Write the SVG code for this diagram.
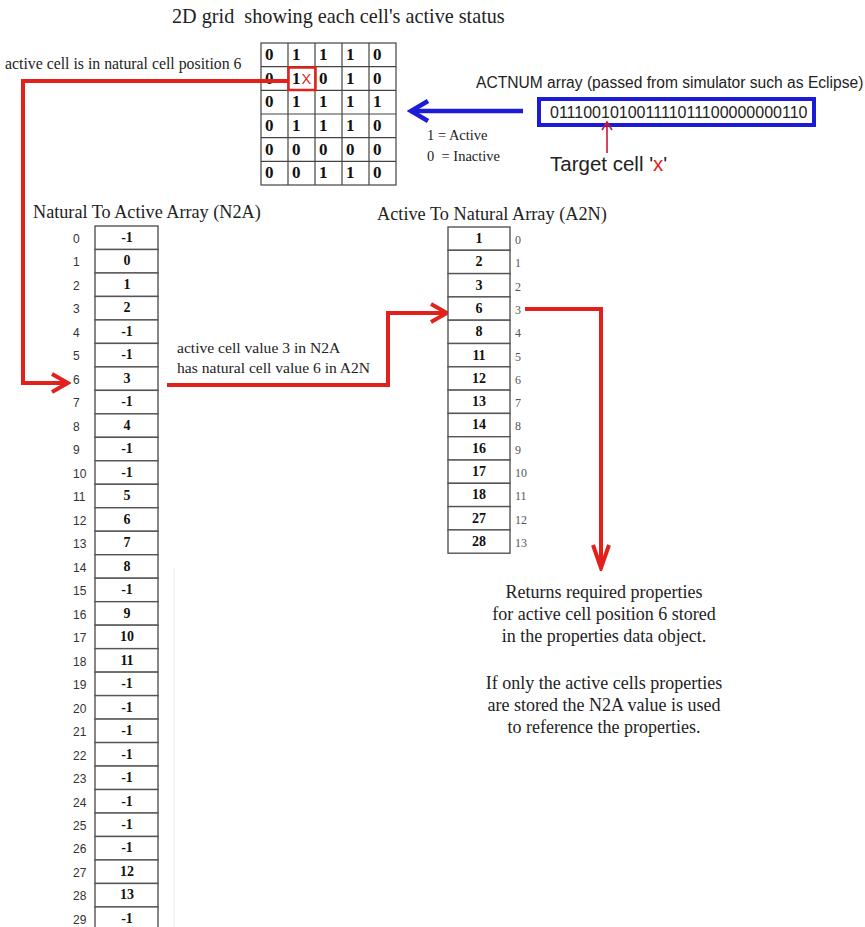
<svg xmlns="http://www.w3.org/2000/svg" width="865" height="927" viewBox="0 0 865 927">
  <style>
    .serif { font-family: "Liberation Serif", "Times New Roman", serif; fill: #222; }
    .pre { white-space: pre; }
    .sans { font-family: "Liberation Sans", Arial, sans-serif; fill: #222; }
    .grid-cell { fill: #fff; stroke: #444; stroke-width: 1.2; }
    .grid-val { font-family: "Liberation Serif", serif; font-weight: bold; font-size: 17px; fill: #111; }
    .arr-cell { fill: #fff; stroke: #555; stroke-width: 1.4; }
    .arr-val { font-family: "Liberation Serif", serif; font-weight: bold; font-size: 14px; fill: #111; text-anchor: middle; }
    .n2a-idx { font-family: "Liberation Sans", Arial, sans-serif; font-size: 12px; fill: #333; }
    .a2n-idx { font-family: "Liberation Serif", serif; font-size: 12px; fill: #555; }
    .red-link { fill: none; stroke: #e3201b; stroke-width: 4; stroke-linejoin: miter; }
    .blue-link { fill: none; stroke: #1c1cd6; stroke-width: 4.5; }
    .thin-link { fill: none; stroke: #c81838; stroke-width: 1.6; }
  </style>
  <defs>
    <marker id="chev-red" viewBox="0 0 22 22" refX="19" refY="11" markerWidth="22" markerHeight="22" markerUnits="userSpaceOnUse" orient="auto">
      <path d="M3,2 L19,11 L3,20" fill="none" stroke="#e3201b" stroke-width="4"/>
    </marker>
    <marker id="chev-red-long" viewBox="0 0 28 20" refX="25" refY="10" markerWidth="28" markerHeight="20" markerUnits="userSpaceOnUse" orient="auto">
      <path d="M2,2 L25,10 L2,18" fill="none" stroke="#e3201b" stroke-width="4"/>
    </marker>
    <marker id="chev-blue" viewBox="0 0 24 24" refX="20" refY="12" markerWidth="24" markerHeight="24" markerUnits="userSpaceOnUse" orient="auto">
      <path d="M3,2 L20,12 L3,22" fill="none" stroke="#1c1cd6" stroke-width="4.5"/>
    </marker>
    <marker id="chev-thin" viewBox="0 0 12 12" refX="10" refY="6" markerWidth="12" markerHeight="12" markerUnits="userSpaceOnUse" orient="auto">
      <path d="M2,1 L10,6 L2,11" fill="none" stroke="#c81838" stroke-width="1.6"/>
    </marker>
  </defs>

  <rect width="865" height="927" fill="#fff"/>

  <!-- faint guide line beside the lower N2A column -->
  <line x1="174" y1="568" x2="174" y2="927" stroke="#ececec" stroke-width="1"/>

  <!-- 2D grid of active flags -->
  <g id="grid">
    <text class="serif pre" x="172" y="23" font-size="20.2">2D grid  showing each cell's active status</text>
    <g id="grid-cells">
      <rect class="grid-cell" x="261" y="43" width="135" height="142"/>
      <line x1="288" y1="43" x2="288" y2="185" stroke="#444" stroke-width="1.2"/>
      <line x1="315" y1="43" x2="315" y2="185" stroke="#444" stroke-width="1.2"/>
      <line x1="342" y1="43" x2="342" y2="185" stroke="#444" stroke-width="1.2"/>
      <line x1="369" y1="43" x2="369" y2="185" stroke="#444" stroke-width="1.2"/>
      <line x1="261" y1="66.7" x2="396" y2="66.7" stroke="#444" stroke-width="1.2"/>
      <line x1="261" y1="90.3" x2="396" y2="90.3" stroke="#444" stroke-width="1.2"/>
      <line x1="261" y1="114" x2="396" y2="114" stroke="#444" stroke-width="1.2"/>
      <line x1="261" y1="137.7" x2="396" y2="137.7" stroke="#444" stroke-width="1.2"/>
      <line x1="261" y1="161.3" x2="396" y2="161.3" stroke="#444" stroke-width="1.2"/>
    </g>
    <g id="grid-values">
      <text class="grid-val" y="60"><tspan x="265">0</tspan><tspan x="292">1</tspan><tspan x="319">1</tspan><tspan x="346">1</tspan><tspan x="373">0</tspan></text>
      <text class="grid-val" y="83.7"><tspan x="265">0</tspan><tspan x="292">1</tspan><tspan x="319">0</tspan><tspan x="346">1</tspan><tspan x="373">0</tspan></text>
      <text class="grid-val" y="107.3"><tspan x="265">0</tspan><tspan x="292">1</tspan><tspan x="319">1</tspan><tspan x="346">1</tspan><tspan x="373">1</tspan></text>
      <text class="grid-val" y="131"><tspan x="265">0</tspan><tspan x="292">1</tspan><tspan x="319">1</tspan><tspan x="346">1</tspan><tspan x="373">0</tspan></text>
      <text class="grid-val" y="154.7"><tspan x="265">0</tspan><tspan x="292">0</tspan><tspan x="319">0</tspan><tspan x="346">0</tspan><tspan x="373">0</tspan></text>
      <text class="grid-val" y="178.3"><tspan x="265">0</tspan><tspan x="292">0</tspan><tspan x="319">1</tspan><tspan x="346">1</tspan><tspan x="373">0</tspan></text>
    </g>
    <!-- highlighted target cell -->
    <g id="target-cell">
      <rect x="288.5" y="67.5" width="27" height="22.5" fill="none" stroke="#e3201b" stroke-width="2.5"/>
      <text class="sans" x="301.5" y="84" font-size="14.5" style="fill:#e3201b">X</text>
    </g>
  </g>

  <!-- legend -->
  <g id="legend">
    <text class="serif" x="427" y="140" font-size="14.5">1 = Active</text>
    <text class="serif pre" x="427" y="161" font-size="14.5">0  = Inactive</text>
  </g>

  <!-- ACTNUM input array -->
  <g id="actnum">
    <text class="sans" x="476" y="88" font-size="15.6">ACTNUM array (passed from simulator such as Eclipse)</text>
    <rect x="539" y="99" width="275" height="26" fill="#fff" stroke="#1c1cd6" stroke-width="4"/>
    <text class="sans" x="550" y="118" font-size="16">011100101001111011100000000110</text>
  </g>

  <g id="target-label">
    <text class="sans" x="550" y="171" font-size="20.5">Target cell '<tspan style="fill:#e3201b">x</tspan>'</text>
  </g>

  <g id="note-natural">
    <text class="serif" x="5" y="69" font-size="15.8">active cell is in natural cell position 6</text>
  </g>

  <!-- Natural To Active array -->
  <g id="n2a">
    <text class="serif" x="33" y="218" font-size="18.2">Natural To Active Array (N2A)</text>
  </g>

  <!-- Active To Natural array -->
  <g id="a2n">
    <text class="serif" x="377" y="220" font-size="18.3">Active To Natural Array (A2N)</text>
  </g>

  <g id="note-lookup">
    <text class="serif" x="177" y="353" font-size="15.6">active cell value 3 in N2A</text>
    <text class="serif" x="177" y="373" font-size="15.6">has natural cell value 6 in A2N</text>
  </g>

  <g id="note-result">
    <text class="serif" font-size="18" text-anchor="middle"><tspan x="604" y="598">Returns required properties</tspan><tspan x="604" y="620">for active cell position 6 stored</tspan><tspan x="604" y="642">in the properties data object.</tspan><tspan x="604" y="689">If only the active cells properties</tspan><tspan x="604" y="711">are stored the N2A value is used</tspan><tspan x="604" y="733">to reference the properties.</tspan></text>
  </g>

  <!-- connectors -->
  <g id="connectors">
    <path class="red-link" d="M288,81 H23 V383 H68" marker-end="url(#chev-red)"/>
    <path class="red-link" d="M167,385 H388 V313 H447" marker-end="url(#chev-red)"/>
    <path class="red-link" d="M525,309 H601 V568" marker-end="url(#chev-red-long)"/>
    <path class="blue-link" d="M523,111 H411" marker-end="url(#chev-blue)"/>
    <path class="thin-link" d="M607,153 V122" marker-end="url(#chev-thin)"/>
  </g>

  <!-- natural-to-active cells, one row per natural index -->
  <g id="n2a-cells">
    <g transform="translate(0,226)">
      <rect class="arr-cell" x="95" y="0" width="63" height="23.48"/><text class="arr-val" x="127" y="16">-1</text><text class="n2a-idx" x="73" y="17">0</text>
    </g>
    <g transform="translate(0,249.48)">
      <rect class="arr-cell" x="95" y="0" width="63" height="23.48"/><text class="arr-val" x="127" y="16">0</text><text class="n2a-idx" x="73" y="17">1</text>
    </g>
    <g transform="translate(0,272.96)">
      <rect class="arr-cell" x="95" y="0" width="63" height="23.48"/><text class="arr-val" x="127" y="16">1</text><text class="n2a-idx" x="73" y="17">2</text>
    </g>
    <g transform="translate(0,296.44)">
      <rect class="arr-cell" x="95" y="0" width="63" height="23.48"/><text class="arr-val" x="127" y="16">2</text><text class="n2a-idx" x="73" y="17">3</text>
    </g>
    <g transform="translate(0,319.92)">
      <rect class="arr-cell" x="95" y="0" width="63" height="23.48"/><text class="arr-val" x="127" y="16">-1</text><text class="n2a-idx" x="73" y="17">4</text>
    </g>
    <g transform="translate(0,343.4)">
      <rect class="arr-cell" x="95" y="0" width="63" height="23.48"/><text class="arr-val" x="127" y="16">-1</text><text class="n2a-idx" x="73" y="17">5</text>
    </g>
    <g transform="translate(0,366.88)">
      <rect class="arr-cell" x="95" y="0" width="63" height="23.48"/><text class="arr-val" x="127" y="16">3</text><text class="n2a-idx" x="73" y="17">6</text>
    </g>
    <g transform="translate(0,390.36)">
      <rect class="arr-cell" x="95" y="0" width="63" height="23.48"/><text class="arr-val" x="127" y="16">-1</text><text class="n2a-idx" x="73" y="17">7</text>
    </g>
    <g transform="translate(0,413.84)">
      <rect class="arr-cell" x="95" y="0" width="63" height="23.48"/><text class="arr-val" x="127" y="16">4</text><text class="n2a-idx" x="73" y="17">8</text>
    </g>
    <g transform="translate(0,437.32)">
      <rect class="arr-cell" x="95" y="0" width="63" height="23.48"/><text class="arr-val" x="127" y="16">-1</text><text class="n2a-idx" x="73" y="17">9</text>
    </g>
    <g transform="translate(0,460.8)">
      <rect class="arr-cell" x="95" y="0" width="63" height="23.48"/><text class="arr-val" x="127" y="16">-1</text><text class="n2a-idx" x="73" y="17">10</text>
    </g>
    <g transform="translate(0,484.28)">
      <rect class="arr-cell" x="95" y="0" width="63" height="23.48"/><text class="arr-val" x="127" y="16">5</text><text class="n2a-idx" x="73" y="17">11</text>
    </g>
    <g transform="translate(0,507.76)">
      <rect class="arr-cell" x="95" y="0" width="63" height="23.48"/><text class="arr-val" x="127" y="16">6</text><text class="n2a-idx" x="73" y="17">12</text>
    </g>
    <g transform="translate(0,531.24)">
      <rect class="arr-cell" x="95" y="0" width="63" height="23.48"/><text class="arr-val" x="127" y="16">7</text><text class="n2a-idx" x="73" y="17">13</text>
    </g>
    <g transform="translate(0,554.72)">
      <rect class="arr-cell" x="95" y="0" width="63" height="23.48"/><text class="arr-val" x="127" y="16">8</text><text class="n2a-idx" x="73" y="17">14</text>
    </g>
    <g transform="translate(0,578.2)">
      <rect class="arr-cell" x="95" y="0" width="63" height="23.48"/><text class="arr-val" x="127" y="16">-1</text><text class="n2a-idx" x="73" y="17">15</text>
    </g>
    <g transform="translate(0,601.68)">
      <rect class="arr-cell" x="95" y="0" width="63" height="23.48"/><text class="arr-val" x="127" y="16">9</text><text class="n2a-idx" x="73" y="17">16</text>
    </g>
    <g transform="translate(0,625.16)">
      <rect class="arr-cell" x="95" y="0" width="63" height="23.48"/><text class="arr-val" x="127" y="16">10</text><text class="n2a-idx" x="73" y="17">17</text>
    </g>
    <g transform="translate(0,648.64)">
      <rect class="arr-cell" x="95" y="0" width="63" height="23.48"/><text class="arr-val" x="127" y="16">11</text><text class="n2a-idx" x="73" y="17">18</text>
    </g>
    <g transform="translate(0,672.12)">
      <rect class="arr-cell" x="95" y="0" width="63" height="23.48"/><text class="arr-val" x="127" y="16">-1</text><text class="n2a-idx" x="73" y="17">19</text>
    </g>
    <g transform="translate(0,695.6)">
      <rect class="arr-cell" x="95" y="0" width="63" height="23.48"/><text class="arr-val" x="127" y="16">-1</text><text class="n2a-idx" x="73" y="17">20</text>
    </g>
    <g transform="translate(0,719.08)">
      <rect class="arr-cell" x="95" y="0" width="63" height="23.48"/><text class="arr-val" x="127" y="16">-1</text><text class="n2a-idx" x="73" y="17">21</text>
    </g>
    <g transform="translate(0,742.56)">
      <rect class="arr-cell" x="95" y="0" width="63" height="23.48"/><text class="arr-val" x="127" y="16">-1</text><text class="n2a-idx" x="73" y="17">22</text>
    </g>
    <g transform="translate(0,766.04)">
      <rect class="arr-cell" x="95" y="0" width="63" height="23.48"/><text class="arr-val" x="127" y="16">-1</text><text class="n2a-idx" x="73" y="17">23</text>
    </g>
    <g transform="translate(0,789.52)">
      <rect class="arr-cell" x="95" y="0" width="63" height="23.48"/><text class="arr-val" x="127" y="16">-1</text><text class="n2a-idx" x="73" y="17">24</text>
    </g>
    <g transform="translate(0,813)">
      <rect class="arr-cell" x="95" y="0" width="63" height="23.48"/><text class="arr-val" x="127" y="16">-1</text><text class="n2a-idx" x="73" y="17">25</text>
    </g>
    <g transform="translate(0,836.48)">
      <rect class="arr-cell" x="95" y="0" width="63" height="23.48"/><text class="arr-val" x="127" y="16">-1</text><text class="n2a-idx" x="73" y="17">26</text>
    </g>
    <g transform="translate(0,859.96)">
      <rect class="arr-cell" x="95" y="0" width="63" height="23.48"/><text class="arr-val" x="127" y="16">12</text><text class="n2a-idx" x="73" y="17">27</text>
    </g>
    <g transform="translate(0,883.44)">
      <rect class="arr-cell" x="95" y="0" width="63" height="23.48"/><text class="arr-val" x="127" y="16">13</text><text class="n2a-idx" x="73" y="17">28</text>
    </g>
    <g transform="translate(0,906.92)">
      <rect class="arr-cell" x="95" y="0" width="63" height="23.48"/><text class="arr-val" x="127" y="16">-1</text><text class="n2a-idx" x="73" y="17">29</text>
    </g>
  </g>

  <!-- active-to-natural cells, one row per active index -->
  <g id="a2n-cells">
    <g transform="translate(0,227)">
      <rect class="arr-cell" x="448" y="0" width="62" height="23.3"/><text class="arr-val" x="479" y="16">1</text><text class="a2n-idx" x="515" y="17">0</text>
    </g>
    <g transform="translate(0,250.3)">
      <rect class="arr-cell" x="448" y="0" width="62" height="23.3"/><text class="arr-val" x="479" y="16">2</text><text class="a2n-idx" x="515" y="17">1</text>
    </g>
    <g transform="translate(0,273.6)">
      <rect class="arr-cell" x="448" y="0" width="62" height="23.3"/><text class="arr-val" x="479" y="16">3</text><text class="a2n-idx" x="515" y="17">2</text>
    </g>
    <g transform="translate(0,296.9)">
      <rect class="arr-cell" x="448" y="0" width="62" height="23.3"/><text class="arr-val" x="479" y="16">6</text><text class="a2n-idx" x="515" y="17">3</text>
    </g>
    <g transform="translate(0,320.2)">
      <rect class="arr-cell" x="448" y="0" width="62" height="23.3"/><text class="arr-val" x="479" y="16">8</text><text class="a2n-idx" x="515" y="17">4</text>
    </g>
    <g transform="translate(0,343.5)">
      <rect class="arr-cell" x="448" y="0" width="62" height="23.3"/><text class="arr-val" x="479" y="16">11</text><text class="a2n-idx" x="515" y="17">5</text>
    </g>
    <g transform="translate(0,366.8)">
      <rect class="arr-cell" x="448" y="0" width="62" height="23.3"/><text class="arr-val" x="479" y="16">12</text><text class="a2n-idx" x="515" y="17">6</text>
    </g>
    <g transform="translate(0,390.1)">
      <rect class="arr-cell" x="448" y="0" width="62" height="23.3"/><text class="arr-val" x="479" y="16">13</text><text class="a2n-idx" x="515" y="17">7</text>
    </g>
    <g transform="translate(0,413.4)">
      <rect class="arr-cell" x="448" y="0" width="62" height="23.3"/><text class="arr-val" x="479" y="16">14</text><text class="a2n-idx" x="515" y="17">8</text>
    </g>
    <g transform="translate(0,436.7)">
      <rect class="arr-cell" x="448" y="0" width="62" height="23.3"/><text class="arr-val" x="479" y="16">16</text><text class="a2n-idx" x="515" y="17">9</text>
    </g>
    <g transform="translate(0,460)">
      <rect class="arr-cell" x="448" y="0" width="62" height="23.3"/><text class="arr-val" x="479" y="16">17</text><text class="a2n-idx" x="515" y="17">10</text>
    </g>
    <g transform="translate(0,483.3)">
      <rect class="arr-cell" x="448" y="0" width="62" height="23.3"/><text class="arr-val" x="479" y="16">18</text><text class="a2n-idx" x="515" y="17">11</text>
    </g>
    <g transform="translate(0,506.6)">
      <rect class="arr-cell" x="448" y="0" width="62" height="23.3"/><text class="arr-val" x="479" y="16">27</text><text class="a2n-idx" x="515" y="17">12</text>
    </g>
    <g transform="translate(0,529.9)">
      <rect class="arr-cell" x="448" y="0" width="62" height="23.3"/><text class="arr-val" x="479" y="16">28</text><text class="a2n-idx" x="515" y="17">13</text>
    </g>
  </g>
</svg>
